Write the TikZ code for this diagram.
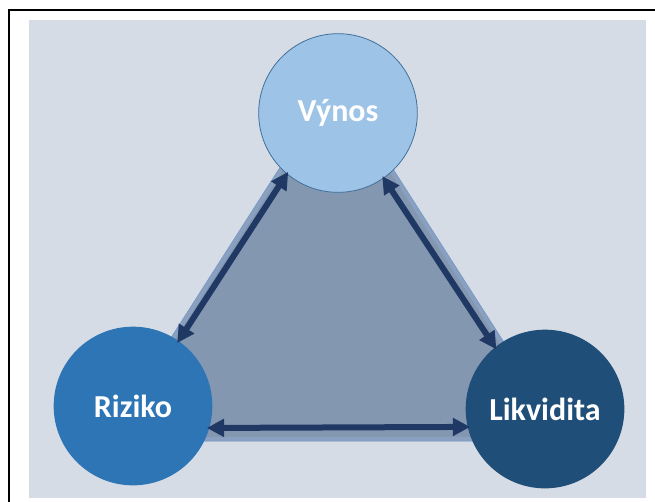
\documentclass[tikz,border=0pt]{standalone}
\usepackage{fontspec}
\setmainfont{Carlito}
\usepackage{tikz}
\usetikzlibrary{arrows.meta}

\definecolor{pozadi}{HTML}{D6DCE5}
\definecolor{trojuh}{HTML}{8497B0}
\definecolor{trojuhokraj}{HTML}{8AA0C0}
\definecolor{trojuhcara}{HTML}{7A9CC8}
\definecolor{vynosbarva}{HTML}{9DC3E6}
\definecolor{vynoskraj}{HTML}{41719C}
\definecolor{rizikobarva}{HTML}{2E75B6}
\definecolor{likvidbarva}{HTML}{1F4E79}
\definecolor{sipkabarva}{HTML}{203864}

\tikzset{
    kruh/.style={shape=circle, minimum size=119pt, inner sep=0pt, text=white,
        font=\fontsize{24}{28}\selectfont\bfseries},
    sipka/.style={draw=sipkabarva, line width=4.5pt,
        {Triangle[length=13pt, width=13pt]}-{Triangle[length=13pt, width=13pt]},
        shorten <=-2pt, shorten >=-2pt}}

\begin{document}
\begin{tikzpicture}[x=0.75pt, y=-0.75pt]

                    \useasboundingbox (0,0) rectangle (655,501);
                    \fill[pozadi] (29,20) rectangle (646,498);
                    \draw[black, line width=1.5pt] (656,10) -- (9,10) -- (9,502);

                    \fill[trojuh] (336,80) -- (105,441) -- (567,441) -- cycle;
                    \begin{scope}
                        \clip (336,80) -- (105,441) -- (567,441) -- cycle;
                        \draw[trojuhokraj, line width=6pt] (336,80) -- (105,441) -- (567,441) -- cycle;
                    \end{scope}
                    \draw[trojuhcara, line width=0.6pt] (336,80) -- (105,441) -- (567,441) -- cycle;

                    \node[kruh, fill=vynosbarva, draw=vynoskraj, line width=0.6pt] (V) at (338,113) {Výnos};
                    \node[kruh, fill=rizikobarva] (R) at (133,406) {Riziko};
                    \node[kruh, fill=likvidbarva] (L) at (545,409) {Likvidita};

                    \draw[sipka] (V.230) -- (R.55);
                    \draw[sipka] (V.305) -- (L.129);
                    \draw[sipka] (R.344) -- (L.193);

                \end{tikzpicture}
\end{document}
